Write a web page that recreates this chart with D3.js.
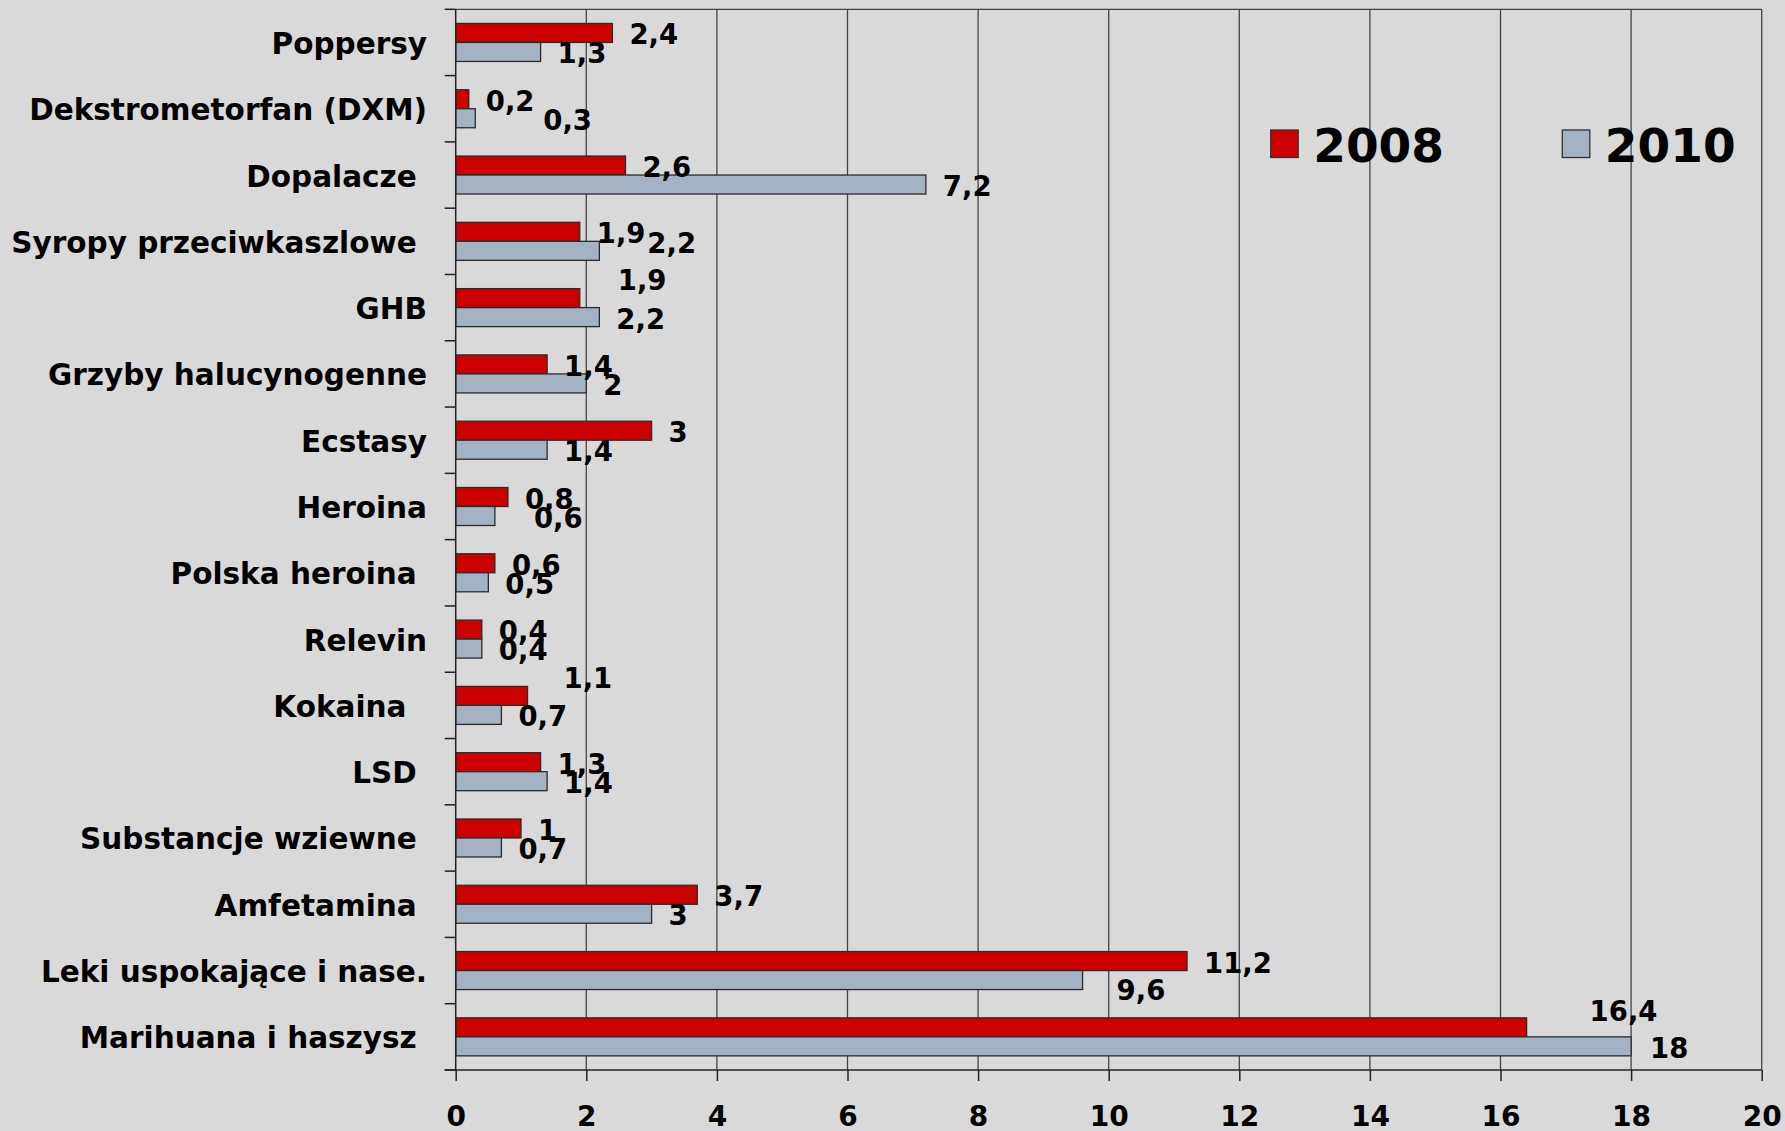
<!DOCTYPE html>
<html>
<head>
<meta http-equiv="Content-type" content="text/html; charset=utf-8">
<title>Substancje 2008 / 2010</title>
<script src="https://d3js.org/d3.v7.min.js"></script>
<style>
  html, body { margin: 0; padding: 0; background: #d9d9d9; }
  svg { display: block; }
  text { font-family: "DejaVu Sans", Verdana, sans-serif; font-weight: bold; fill: #000; white-space: pre; }
</style>
</head>
<body>
<svg id="chart" width="1785" height="1131"></svg>
<script>

// DATA (top to bottom as in the picture)
var categories = [
  "Poppersy", "Dekstrometorfan (DXM)", "Dopalacze ", "Syropy przeciwkaszlowe ",
  "GHB", "Grzyby halucynogenne", "Ecstasy", "Heroina", "Polska heroina ",
  "Relevin", "Kokaina  ", "LSD ", "Substancje wziewne ", "Amfetamina ",
  "Leki uspokające i nase.", "Marihuana i haszysz "
];
var values2008 = [2.4, 0.2, 2.6, 1.9, 1.9, 1.4, 3, 0.8, 0.6, 0.4, 1.1, 1.3, 1, 3.7, 11.2, 16.4];
var values2010 = [1.3, 0.3, 7.2, 2.2, 2.2, 2, 1.4, 0.6, 0.5, 0.4, 0.7, 1.4, 0.7, 3, 9.6, 18];
var seriesNames = ["2008", "2010"];
var xTicks = [0, 2, 4, 6, 8, 10, 12, 14, 16, 18, 20];

// data labels that the original chart had dragged off their default spot
var labelNudge = {
  "2010-1": [51, 0], "2010-3": [31, -9], "2008-4": [21, -20], "2010-7": [22, 0],
  "2008-10": [19, -19], "2010-14": [17, 8], "2008-15": [46, -18], "2010-15": [2, 0]
};

var colors = { "2008": "#cc0000", "2010": "#a3b3c3" };

// plot box (not called top/left: window.top is taken)
var plotL = 455.7, plotR = 1761.7, plotT = 9.3, plotB = 1070;

var svg = d3.select("#chart");

var x = d3.scaleLinear().domain([0, 20]).range([plotL, plotR]);
var y = d3.scaleBand().domain(categories).range([plotT, plotB]).paddingInner(0).paddingOuter(0);
var ys = d3.scaleBand().domain(seriesNames).range([0, y.bandwidth()]).paddingInner(0).paddingOuter(0.745);

// gridlines
svg.append("g").selectAll("line")
  .data(xTicks.slice(1))
  .enter().append("line")
  .attr("x1", function(d){ return x(d); }).attr("x2", function(d){ return x(d); })
  .attr("y1", plotT).attr("y2", plotB)
  .attr("stroke", "#444").attr("stroke-width", 1.3);

// top border
svg.append("line")
  .attr("x1", plotL).attr("x2", plotR).attr("y1", plotT).attr("y2", plotT)
  .attr("stroke", "#444").attr("stroke-width", 1.3);

// bars
var rows = [];
categories.forEach(function(c, i) {
  rows.push({cat: c, s: "2008", v: values2008[i], i: i});
  rows.push({cat: c, s: "2010", v: values2010[i], i: i});
});

svg.append("g").selectAll("rect")
  .data(rows)
  .enter().append("rect")
  .attr("x", x(0))
  .attr("y", function(d){ return y(d.cat) + ys(d.s); })
  .attr("width", function(d){ return x(d.v) - x(0); })
  .attr("height", ys.bandwidth())
  .attr("fill", function(d){ return colors[d.s]; })
  .attr("stroke", "#2b2b2b").attr("stroke-width", 1.3);

// value labels
svg.append("g").selectAll("text")
  .data(rows)
  .enter().append("text")
  .attr("x", function(d){
    var n = labelNudge[d.s + "-" + d.i] || [0, 0];
    return x(d.v) + 17 + n[0];
  })
  .attr("y", function(d){
    var n = labelNudge[d.s + "-" + d.i] || [0, 0];
    return y(d.cat) + ys(d.s) + ys.bandwidth() / 2 + 11.5 + n[1];
  })
  .style("font-size", "27.5px")
  .text(function(d){ return String(d.v).replace(".", ","); });

// y axis
svg.append("line")
  .attr("x1", plotL).attr("x2", plotL).attr("y1", plotT).attr("y2", plotB)
  .attr("stroke", "#222").attr("stroke-width", 1.5);
var bounds = categories.map(function(c){ return y(c); }).concat([plotB]);
svg.append("g").selectAll("line")
  .data(bounds)
  .enter().append("line")
  .attr("x1", plotL - 11).attr("x2", plotL)
  .attr("y1", function(d){ return d; }).attr("y2", function(d){ return d; })
  .attr("stroke", "#222").attr("stroke-width", 1.5);

svg.append("g").selectAll("text")
  .data(categories)
  .enter().append("text")
  .attr("x", 427)
  .attr("y", function(d){ return y(d) + y.bandwidth() / 2 + 11.5; })
  .attr("text-anchor", "end")
  .style("font-size", "29.5px")
  .text(function(d){ return d; });

// x axis
var xAxis = d3.axisBottom(x).tickValues(xTicks).tickSize(11).tickPadding(25).tickFormat(d3.format("d"));
var gx = svg.append("g").attr("transform", "translate(0," + plotB + ")").call(xAxis);
gx.select(".domain").remove();
gx.selectAll(".tick line").attr("stroke", "#222").attr("stroke-width", 1.5);
gx.selectAll(".tick text")
  .attr("fill", "#000")
  .style("font-size", "28px")
  .style("font-family", "\"DejaVu Sans\", Verdana, sans-serif")
  .style("font-weight", "bold");
svg.append("line")
  .attr("x1", plotL - 11).attr("x2", plotR).attr("y1", plotB).attr("y2", plotB)
  .attr("stroke", "#222").attr("stroke-width", 1.5);

// legend
var legendX = [1270.7, 1562.3];
var lg = svg.append("g").selectAll("g")
  .data(seriesNames)
  .enter().append("g")
  .attr("transform", function(d, i){ return "translate(" + legendX[i] + ",130)"; });
lg.append("rect")
  .attr("width", 27.5).attr("height", 27.5)
  .attr("fill", function(d){ return colors[d]; })
  .attr("stroke", "#333").attr("stroke-width", 1.3);
lg.append("text")
  .attr("x", 42.5).attr("y", 31.7)
  .style("font-size", "47px")
  .text(function(d){ return d; });

</script>
</body>
</html>
